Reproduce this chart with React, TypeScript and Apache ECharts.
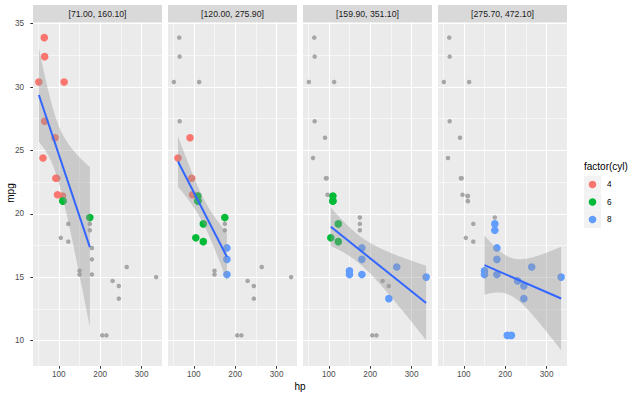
import React, { useEffect, useRef } from "react";
import * as echarts from "echarts";

// mtcars: hp, mpg, cyl, disp
const carHp = [110, 110, 93, 110, 175, 105, 245, 62, 95, 123, 123, 180, 180, 180, 205, 215, 230, 66, 52, 65, 97, 150, 150, 245, 175, 66, 91, 113, 264, 175, 335, 109];
const carMpg = [21, 21, 22.8, 21.4, 18.7, 18.1, 14.3, 24.4, 22.8, 19.2, 17.8, 16.4, 17.3, 15.2, 10.4, 10.4, 14.7, 32.4, 30.4, 33.9, 21.5, 15.5, 15.2, 13.3, 19.2, 27.3, 26, 30.4, 15.8, 19.7, 15, 21.4];
const carCyl = [6, 6, 4, 6, 8, 6, 8, 4, 4, 6, 6, 8, 8, 8, 8, 8, 8, 4, 4, 4, 4, 8, 8, 8, 8, 4, 4, 4, 8, 6, 8, 4];
const carDisp = [160, 160, 108, 258, 360, 225, 360, 146.7, 140.8, 167.6, 167.6, 275.8, 275.8, 275.8, 472, 460, 440, 78.7, 75.7, 71.1, 120.1, 318, 304, 350, 400, 79, 120.3, 95.1, 351, 145, 301, 121];

const panelLow = [71.0, 120.0, 159.9, 275.7];
const panelHigh = [160.1, 275.9, 351.1, 472.1];
const panelLabels = ["[71.00, 160.10]", "[120.00, 275.90]", "[159.90, 351.10]", "[275.70, 472.10]"];

const cylLevels = [4, 6, 8];
const cylColors = ["#F8766D", "#00BA38", "#619CFF"];

const xTicks = [100, 200, 300];
const xMinor = [50, 150, 250];
const yTicks = [10, 15, 20, 25, 30, 35];
const yMinor = [12.5, 17.5, 22.5, 27.5, 32.5];

// t quantiles (0.975) by degrees of freedom
const tQuant: Record<number, number> = { 10: 2.228139, 11: 2.200985, 12: 2.178813, 13: 2.160369, 14: 2.144787, 15: 2.13145 };

const FONT = "Liberation Sans, Arial, sans-serif";
const PANEL_LEFT = [33, 168, 303, 438];
const PANEL_W = 129;
const PANEL_TOP = 22;
const PANEL_H = 344;

function fitPanel(idx: number[]) {
  const xs = idx.map((i) => carHp[i]);
  const ys = idx.map((i) => carMpg[i]);
  const n = xs.length;
  const xbar = xs.reduce((a, b) => a + b, 0) / n;
  const ybar = ys.reduce((a, b) => a + b, 0) / n;
  let sxx = 0, sxy = 0;
  for (let k = 0; k < n; k++) {
    sxx += (xs[k] - xbar) ** 2;
    sxy += (xs[k] - xbar) * (ys[k] - ybar);
  }
  const b = sxy / sxx;
  const a = ybar - b * xbar;
  let rss = 0;
  for (let k = 0; k < n; k++) rss += (ys[k] - a - b * xs[k]) ** 2;
  const s = Math.sqrt(rss / (n - 2));
  const t = tQuant[n - 2] ?? 2.2;
  const xmin = Math.min(...xs);
  const xmax = Math.max(...xs);
  const band: number[][] = [];
  const steps = 80;
  for (let k = 0; k < steps; k++) {
    const x = xmin + ((xmax - xmin) * k) / (steps - 1);
    const yhat = a + b * x;
    const se = s * Math.sqrt(1 / n + (x - xbar) ** 2 / sxx);
    band.push([x, yhat - t * se, yhat + t * se]);
  }
  return { line: [[xmin, a + b * xmin], [xmax, a + b * xmax]], band };
}

export default function App() {
  const ref = useRef<HTMLDivElement>(null);
  useEffect(() => {
    if (!ref.current) return;
    const chart = echarts.init(ref.current, undefined, { renderer: "svg" });

    const panels = panelLow.map((lo, p) =>
      carDisp.map((d, i) => i).filter((i) => carDisp[i] >= lo && carDisp[i] <= panelHigh[p])
    );
    const fits = panels.map((idx) => fitPanel(idx));

    let yLo = Math.min(...carMpg), yHi = Math.max(...carMpg);
    fits.forEach((f) => f.band.forEach((b) => { yLo = Math.min(yLo, b[1]); yHi = Math.max(yHi, b[2]); }));
    const yr = yHi - yLo;
    const yMin = yLo - 0.05 * yr, yMax = yHi + 0.05 * yr;
    const xLo = Math.min(...carHp), xHi = Math.max(...carHp);
    const xr = xHi - xLo;
    const xMin = xLo - 0.05 * xr, xMax = xHi + 0.05 * xr;

    const grids = PANEL_LEFT.map((l) => ({
      left: l, top: PANEL_TOP, width: PANEL_W, height: PANEL_H,
      show: true, backgroundColor: "#EBEBEB", borderWidth: 0, containLabel: false,
    }));

    const xAxes = PANEL_LEFT.map((_, p) => ({
      type: "value", gridIndex: p, min: xMin, max: xMax,
      axisLine: { show: false },
      splitLine: { show: false },
      axisTick: { show: true, customValues: xTicks, length: 2.7, lineStyle: { color: "#333333", width: 1 } },
      axisLabel: { show: true, customValues: xTicks, margin: 4, color: "#4D4D4D", fontSize: 8.2, fontFamily: FONT },
      name: "",
    }));
    const yAxes = PANEL_LEFT.map((_, p) => ({
      type: "value", gridIndex: p, min: yMin, max: yMax,
      axisLine: { show: false },
      splitLine: { show: false },
      axisTick: { show: p === 0, customValues: yTicks, length: 2.7, lineStyle: { color: "#333333", width: 1 } },
      axisLabel: { show: p === 0, customValues: yTicks, margin: 9, color: "#4D4D4D", fontSize: 8.2, fontFamily: FONT },
    }));

    const series: any[] = [];
    const allPts = carHp.map((h, i) => [h, carMpg[i]]);
    panels.forEach((idx, p) => {
      const mk = (vals: number[], key: "xAxis" | "yAxis") => vals.map((v) => ({ [key]: v }));
      series.push({
        type: "scatter", xAxisIndex: p, yAxisIndex: p, data: [], z: 1, silent: true,
        markLine: {
          z: 1,
          silent: true, symbol: ["none", "none"], label: { show: false }, animation: false,
          lineStyle: { type: "solid", color: "#FFFFFF", width: 0.55, opacity: 1 },
          emphasis: { disabled: true },
          data: [...mk(xMinor, "xAxis"), ...mk(yMinor, "yAxis")],
        },
      });
      series.push({
        type: "scatter", xAxisIndex: p, yAxisIndex: p, data: [], z: 1, silent: true,
        markLine: {
          z: 1,
          silent: true, symbol: ["none", "none"], label: { show: false }, animation: false,
          lineStyle: { type: "solid", color: "#FFFFFF", width: 1.1, opacity: 1 },
          emphasis: { disabled: true },
          data: [...mk(xTicks, "xAxis"), ...mk(yTicks, "yAxis")],
        },
      });
      series.push({
        type: "scatter", xAxisIndex: p, yAxisIndex: p, data: allPts, z: 2, silent: true,
        symbolSize: 4.5, itemStyle: { color: "#A6A6A6", opacity: 1 },
      });
      cylLevels.forEach((c, ci) => {
        const pts = idx.filter((i) => carCyl[i] === c).map((i) => [carHp[i], carMpg[i]]);
        series.push({
          name: String(c), type: "scatter", xAxisIndex: p, yAxisIndex: p, data: pts, z: 3, silent: true,
          symbolSize: 7.6, itemStyle: { color: cylColors[ci], opacity: 1 },
        });
      });
      const band = fits[p].band;
      series.push({
        type: "custom", xAxisIndex: p, yAxisIndex: p, data: band, z: 4, silent: true, clip: true,
        encode: { x: 0, y: [1, 2] },
        renderItem: (params: any, api: any) => {
          if (params.dataIndex !== 0) return null;
          const pts: number[][] = [];
          band.forEach((b) => pts.push(api.coord([b[0], b[2]])));
          for (let k = band.length - 1; k >= 0; k--) pts.push(api.coord([band[k][0], band[k][1]]));
          return { type: "polygon", shape: { points: pts }, style: { fill: "rgba(153,153,153,0.4)" } };
        },
      });
      series.push({
        type: "line", xAxisIndex: p, yAxisIndex: p, data: fits[p].line, z: 5, silent: true,
        symbol: "none", lineStyle: { color: "#3366FF", width: 2 },
      });
    });

    const graphics: any[] = [];
    PANEL_LEFT.forEach((l, p) => {
      graphics.push({
        type: "rect", left: l, top: 5, shape: { width: PANEL_W, height: 17 },
        style: { fill: "#D9D9D9" }, silent: true,
      });
      graphics.push({
        type: "text", x: l + PANEL_W / 2, y: 13.5,
        style: { text: panelLabels[p], fill: "#1A1A1A", font: `8.7px ${FONT}`, align: "center", verticalAlign: "middle" },
        silent: true,
      });
    });
    graphics.push({
      type: "text", x: 300, y: 386,
      style: { text: "hp", fill: "#000000", font: `10px ${FONT}`, align: "center", verticalAlign: "middle" },
    });
    graphics.push({
      type: "text", x: 10, y: 193, rotation: Math.PI / 2,
      style: { text: "mpg", fill: "#000000", font: `10px ${FONT}`, align: "center", verticalAlign: "middle" },
    });
    graphics.push({
      type: "text", x: 584, y: 166,
      style: { text: "factor(cyl)", fill: "#000000", font: `10px ${FONT}`, align: "left", verticalAlign: "middle" },
    });
    cylLevels.forEach((c, ci) => {
      const cy = 184.5 + ci * 17.5;
      graphics.push({ type: "rect", shape: { x: 584, y: cy - 8.7, width: 17, height: 17.4 }, style: { fill: "#F2F2F2" } });
      graphics.push({ type: "circle", shape: { cx: 592.5, cy, r: 3.8 }, style: { fill: cylColors[ci] } });
      graphics.push({
        type: "text", x: 607, y: cy,
        style: { text: String(c), fill: "#000000", font: `8.2px ${FONT}`, align: "left", verticalAlign: "middle" },
      });
    });

    chart.setOption({
      animation: false,
      backgroundColor: "#FFFFFF",
      grid: grids,
      xAxis: xAxes,
      yAxis: yAxes,
      series,
      graphic: graphics,
    });
    return () => chart.dispose();
  }, []);
  return <div ref={ref} style={{ width: 643, height: 398, position: "absolute", left: 0, top: 0 }} />;
}
